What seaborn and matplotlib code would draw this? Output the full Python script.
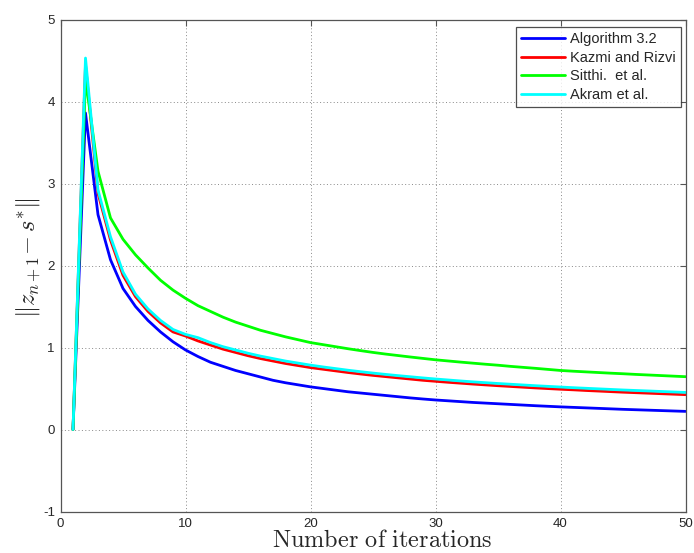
import numpy as np
import pandas as pd
import matplotlib
matplotlib.use("Agg")
import matplotlib.pyplot as plt
import seaborn as sns

iterations = list(range(1, 51))

algorithm_32 = [0.0, 3.86, 2.62, 2.07, 1.72, 1.50, 1.33, 1.19, 1.07, 0.97,
                0.89, 0.82, 0.77, 0.72, 0.68, 0.64, 0.60, 0.57, 0.545, 0.52,
                0.50, 0.48, 0.46, 0.445, 0.43, 0.415, 0.40, 0.385, 0.372, 0.36,
                0.35, 0.34, 0.33, 0.322, 0.314, 0.306, 0.298, 0.29, 0.283, 0.276,
                0.27, 0.264, 0.258, 0.252, 0.246, 0.241, 0.236, 0.231, 0.226, 0.221]

kazmi_rizvi = [0.0, 4.45, 2.88, 2.31, 1.88, 1.62, 1.44, 1.30, 1.19, 1.14,
               1.08, 1.03, 0.98, 0.94, 0.90, 0.865, 0.835, 0.805, 0.78, 0.755,
               0.735, 0.715, 0.695, 0.677, 0.66, 0.645, 0.63, 0.615, 0.60, 0.588,
               0.576, 0.565, 0.554, 0.544, 0.534, 0.525, 0.516, 0.507, 0.499, 0.491,
               0.484, 0.476, 0.469, 0.462, 0.455, 0.449, 0.443, 0.437, 0.431, 0.425]

sitthi = [0.0, 4.28, 3.15, 2.58, 2.32, 2.13, 1.97, 1.82, 1.70, 1.60,
          1.51, 1.44, 1.37, 1.31, 1.26, 1.21, 1.17, 1.13, 1.095, 1.06,
          1.035, 1.01, 0.985, 0.962, 0.94, 0.92, 0.902, 0.884, 0.867, 0.85,
          0.836, 0.822, 0.809, 0.796, 0.784, 0.77, 0.758, 0.746, 0.733, 0.72,
          0.711, 0.703, 0.695, 0.687, 0.68, 0.672, 0.665, 0.658, 0.651, 0.644]

akram = [0.0, 4.53, 2.92, 2.35, 1.92, 1.65, 1.47, 1.33, 1.22, 1.16,
         1.12, 1.06, 1.01, 0.97, 0.93, 0.895, 0.865, 0.835, 0.81, 0.785,
         0.763, 0.743, 0.723, 0.705, 0.688, 0.672, 0.657, 0.643, 0.629, 0.616,
         0.604, 0.592, 0.581, 0.571, 0.561, 0.552, 0.543, 0.534, 0.526, 0.518,
         0.51, 0.503, 0.496, 0.489, 0.482, 0.476, 0.47, 0.464, 0.458, 0.452]

series_names = ["Algorithm 3.2", "Kazmi and Rizvi", "Sitthi.  et al.", "Akram et al."]
series_values = [algorithm_32, kazmi_rizvi, sitthi, akram]
colors = ["#0000ff", "#ff0000", "#00ff00", "#00ffff"]

x_ticks = [0, 10, 20, 30, 40, 50]
y_ticks = [-1, 0, 1, 2, 3, 4, 5]

df = pd.concat([pd.DataFrame({"iter": iterations, "err": v, "method": n})
                for n, v in zip(series_names, series_values)], ignore_index=True)

sns.set_style("white")
plt.rcParams["font.family"] = ["Liberation Sans", "DejaVu Sans"]
plt.rcParams["mathtext.fontset"] = "cm"

fig = plt.figure(figsize=(6.94, 5.53), dpi=100)
ax = fig.add_axes([60.5 / 694, 1 - 511.5 / 553, 625 / 694, (511.5 - 19.5) / 553])

sns.lineplot(data=df, x="iter", y="err", hue="method", hue_order=series_names,
             palette=dict(zip(series_names, colors)), linewidth=2.0, ax=ax,
             sort=False, estimator=None)

ax.set_xlim(0, 50)
ax.set_ylim(-1, 5)
ax.set_xticks(x_ticks)
ax.set_yticks(y_ticks)
ax.set_xticklabels([str(t) for t in x_ticks], fontsize=9.5)
ax.set_yticklabels([str(t) for t in y_ticks], fontsize=9.5)
ax.grid(True, linestyle=(0, (1, 2.5)), color="#888888", linewidth=0.7)
ax.tick_params(direction="in", top=True, right=True, length=4, width=0.8,
               color="#555555")
ax.tick_params(axis="x", pad=5)
ax.tick_params(axis="y", pad=4)
for s in ax.spines.values():
    s.set_visible(True)
    s.set_color("#555555")
    s.set_linewidth(0.9)

ax.set_xlabel(r"$\mathrm{Number\ of\ iterations}$", fontsize=17.5)
ax.xaxis.set_label_coords(0.515, -18.5 / 492, transform=ax.transAxes)
ax.xaxis.label.set_va("top")
ax.set_ylabel(r"$\|z_{n+1}\!-s^{*}\|$", fontsize=17.5)
ax.yaxis.set_label_coords(-0.03, (511.5 - 258) / 492, transform=ax.transAxes)

leg = ax.legend(loc="upper right", bbox_to_anchor=(0.9928, 0.9848), fontsize=10.5,
                frameon=True, fancybox=False, edgecolor="#222222",
                handlelength=3.04, handletextpad=0.34, borderpad=0.35,
                labelspacing=0.32, borderaxespad=0.0)
leg.get_frame().set_linewidth(0.9)
for line in leg.get_lines():
    line.set_linewidth(2.0)

fig.savefig("out.png", dpi=100, facecolor="white")
